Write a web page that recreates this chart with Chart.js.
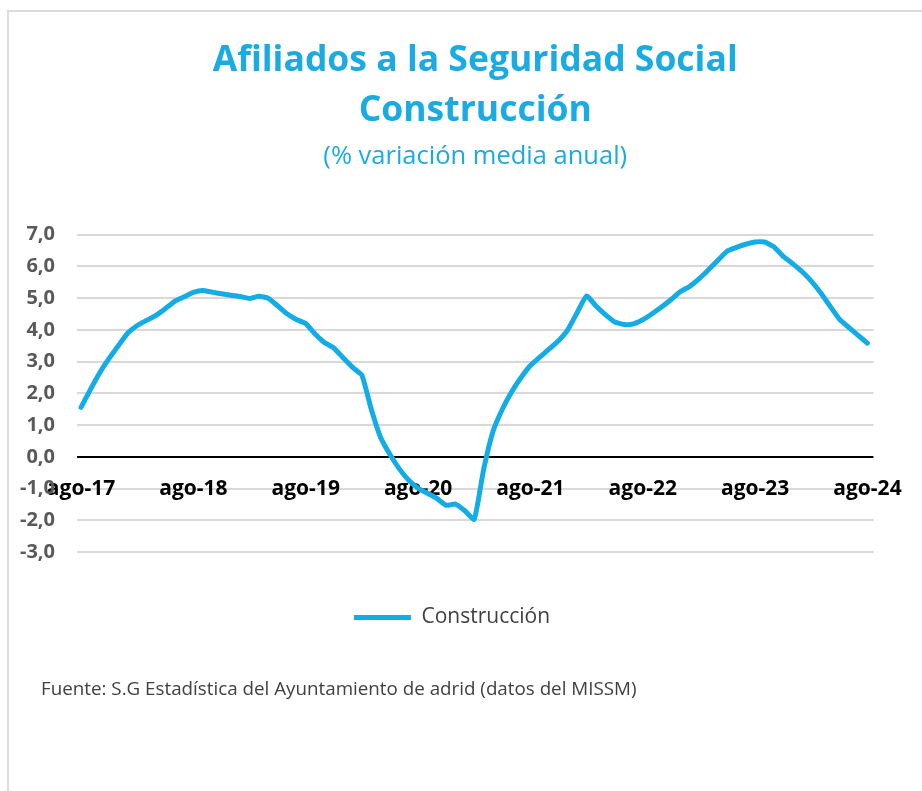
<!DOCTYPE html>
<html lang="es">
<head>
<meta charset="utf-8">
<script src="https://cdn.jsdelivr.net/npm/chart.js@4"></script>
<style>
  html, body { margin: 0; padding: 0; background: #fff; width: 922px; height: 791px; overflow: hidden; }
  #frame { position: absolute; left: 7px; top: 10px; width: 930px; height: 800px; border-left: 2px solid #dcdcdc; border-top: 2px solid #dcdcdc; }
  #c { position: absolute; left: 0; top: 0; }
  #fuente { position: absolute; left: 41px; top: 675px; font-family: "Open Sans", sans-serif; font-size: 18.8px; color: #404040; white-space: nowrap; }
</style>
</head>
<body>
<div id="frame"></div>
<canvas id="c" width="922" height="791"></canvas>
<div id="fuente">Fuente: S.G Estadística del Ayuntamiento de adrid (datos del MISSM)</div>
<script>
const titleLines = ['Afiliados a la Seguridad Social', 'Construcción'];
const subtitleText = '(% variación media anual)';
const seriesName = 'Construcción';

const months = [
  'ago-17','sep-17','oct-17','nov-17','dic-17',
  'ene-18','feb-18','mar-18','abr-18','may-18','jun-18','jul-18','ago-18','sep-18','oct-18','nov-18','dic-18',
  'ene-19','feb-19','mar-19','abr-19','may-19','jun-19','jul-19','ago-19','sep-19','oct-19','nov-19','dic-19',
  'ene-20','feb-20','mar-20','abr-20','may-20','jun-20','jul-20','ago-20','sep-20','oct-20','nov-20','dic-20',
  'ene-21','feb-21','mar-21','abr-21','may-21','jun-21','jul-21','ago-21','sep-21','oct-21','nov-21','dic-21',
  'ene-22','feb-22','mar-22','abr-22','may-22','jun-22','jul-22','ago-22','sep-22','oct-22','nov-22','dic-22',
  'ene-23','feb-23','mar-23','abr-23','may-23','jun-23','jul-23','ago-23','sep-23','oct-23','nov-23','dic-23',
  'ene-24','feb-24','mar-24','abr-24','may-24','jun-24','jul-24','ago-24'
];

const construccion = [
  1.56, 2.12, 2.65, 3.10, 3.51,
  3.90, 4.14, 4.30, 4.46, 4.67, 4.90, 5.04, 5.18, 5.24, 5.19, 5.14, 5.09,
  5.05, 4.99, 5.06, 5.00, 4.76, 4.51, 4.33, 4.20, 3.87, 3.60, 3.43, 3.12,
  2.82, 2.57, 1.50, 0.61, 0.07, -0.38, -0.74, -0.99, -1.15, -1.31, -1.53, -1.49,
  -1.70, -1.97, -0.40, 0.80, 1.50, 2.05, 2.50, 2.88, 3.14, 3.40, 3.66, 4.01,
  4.55, 5.07, 4.75, 4.48, 4.25, 4.17, 4.19, 4.32, 4.51, 4.72, 4.95, 5.20,
  5.37, 5.61, 5.89, 6.19, 6.48, 6.60, 6.70, 6.77, 6.77, 6.62, 6.32, 6.09,
  5.84, 5.54, 5.17, 4.75, 4.34, 4.08, 3.83, 3.58
];

const xTickLabels = ['ago-17','ago-18','ago-19','ago-20','ago-21','ago-22','ago-23','ago-24'];
const yTickValues = [-3, -2, -1, 0, 1, 2, 3, 4, 5, 6, 7];

const BLUE = '#13ACE6';
const TITLE_BLUE = '#1AABE3';

const points = construccion.map((v, i) => ({ x: i, y: v }));
const xTickIdx = xTickLabels.map(l => months.indexOf(l));

new Chart(document.getElementById('c'), {
  type: 'line',
  data: {
    datasets: [{
      label: seriesName,
      data: points,
      borderColor: BLUE,
      backgroundColor: BLUE,
      borderWidth: 5,
      borderCapStyle: 'round',
      borderJoinStyle: 'round',
      pointRadius: 0,
      tension: 0.15,
      fill: false
    }]
  },
  options: {
    responsive: false,
    devicePixelRatio: 1,
    animation: false,
    layout: { padding: { left: 12, right: 30, top: 0, bottom: 153 } },
    plugins: {
      title: {
        display: true,
        fullSize: false,
        text: titleLines,
        color: TITLE_BLUE,
        font: { family: 'Open Sans', size: 35.5, weight: 'bold', lineHeight: 1.41 },
        padding: { top: 36, bottom: 0 }
      },
      subtitle: {
        display: true,
        fullSize: false,
        text: subtitleText,
        color: TITLE_BLUE,
        font: { family: 'Open Sans', size: 25.5, weight: 'normal', lineHeight: 1.2 },
        padding: { top: 5, bottom: 63 }
      },
      legend: {
        display: true,
        position: 'bottom',
        labels: {
          usePointStyle: true,
          pointStyle: 'line',
          pointStyleWidth: 57,
          color: '#404040',
          font: { family: 'Open Sans', size: 21 },
          padding: 55
        }
      },
      tooltip: { enabled: false }
    },
    scales: {
      x: {
        type: 'linear',
        min: -0.43,
        max: 84.64,
        position: { y: 0 },
        grid: { display: false, drawTicks: false },
        border: { display: false },
        afterBuildTicks: (s) => { s.ticks = xTickIdx.map(v => ({ value: v })); },
        ticks: {
          autoSkip: false,
          maxRotation: 0,
          padding: 20,
          color: '#000',
          font: { family: 'Open Sans', size: 21, weight: 'bold' },
          callback: (v) => { const k = xTickIdx.indexOf(v); return k >= 0 ? xTickLabels[k] : ''; }
        }
      },
      y: {
        type: 'linear',
        min: -3,
        max: 7,
        afterBuildTicks: (s) => { s.ticks = yTickValues.map(v => ({ value: v })); },
        afterFit: (s) => { s.width = 65; },
        grid: {
          drawTicks: false,
          color: (ctx) => (ctx.tick && ctx.tick.value === 0) ? '#000000' : '#d9d9d9',
          lineWidth: 2
        },
        border: { display: false },
        ticks: {
          padding: 22,
          color: '#595959',
          font: { family: 'Open Sans', size: 20, weight: 'bold' },
          callback: (v) => v.toFixed(1).replace('.', ',')
        }
      },
      yRightSpace: {
        type: 'linear',
        position: 'right',
        display: true,
        grid: { display: false, drawTicks: false },
        border: { display: false },
        ticks: { display: false },
        afterFit: (s) => { s.width = 16; }
      }
    }
  }
});
</script>
</body>
</html>
